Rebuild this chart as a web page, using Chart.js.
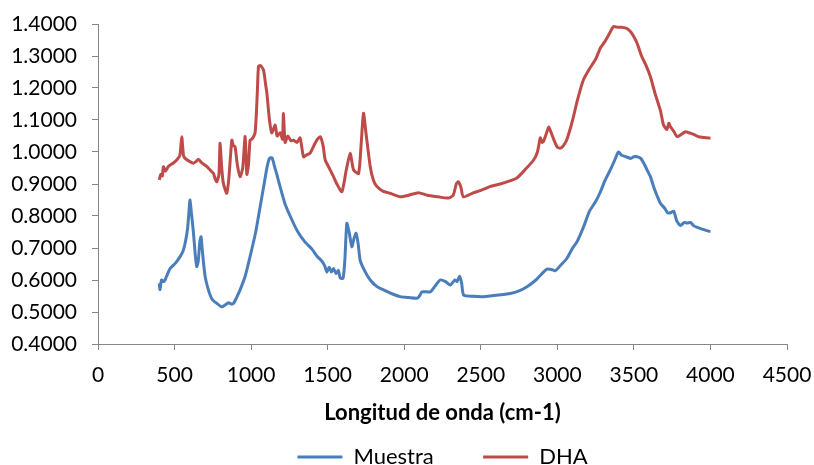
<!DOCTYPE html>
<html>
<head>
<meta charset="utf-8">
<script src="https://cdn.jsdelivr.net/npm/chart.js@4.4.1/dist/chart.umd.min.js"></script>
<style>
  html, body { margin: 0; padding: 0; background: #fff; }
  #wrap { width: 814px; height: 465px; position: relative; }
</style>
</head>
<body>
<div id="wrap"><canvas id="espectro"></canvas></div>
<script>
// series names
const seriesNames = ['Muestra', 'DHA'];

// Muestra: wavenumber (cm-1) and value
const muestraX = [400, 405, 415, 430, 438, 455, 471, 490, 510, 536, 555, 569, 585, 595, 601, 610, 623, 635, 645, 655,
  665, 673, 680, 688, 700, 721, 745, 776, 808, 830, 852, 870, 885, 905, 928, 960, 993, 1030, 1059, 1085,
  1105, 1120, 1137, 1150, 1168, 1190, 1220, 1255, 1300, 1350, 1400, 1429, 1460, 1480, 1495, 1510, 1525, 1538, 1555, 1570,
  1582, 1600, 1612, 1625, 1640, 1658, 1672, 1686, 1700, 1712, 1740, 1778, 1820, 1865, 1920, 1974, 2030, 2083, 2100, 2116,
  2170, 2200, 2235, 2270, 2301, 2330, 2345, 2362, 2375, 2388, 2450, 2518, 2600, 2693, 2750, 2802, 2860, 2900, 2932, 2960,
  2987, 3020, 3063, 3100, 3129, 3172, 3210, 3250, 3281, 3310, 3346, 3375, 3399, 3420, 3450, 3480, 3500, 3521, 3545, 3570,
  3590, 3608, 3630, 3650, 3673, 3700, 3720, 3739, 3760, 3780, 3804, 3830, 3848, 3870, 3890, 3910, 3940, 3970, 4000];
const muestraY = [0.590, 0.570, 0.600, 0.595, 0.600, 0.620, 0.636, 0.645, 0.655, 0.673, 0.690, 0.715, 0.760, 0.820, 0.850, 0.810, 0.750, 0.680, 0.642, 0.660,
  0.720, 0.735, 0.700, 0.660, 0.610, 0.569, 0.540, 0.527, 0.516, 0.522, 0.529, 0.525, 0.527, 0.545, 0.569, 0.610, 0.673, 0.750, 0.829, 0.900,
  0.955, 0.980, 0.982, 0.960, 0.930, 0.890, 0.840, 0.800, 0.755, 0.720, 0.695, 0.675, 0.660, 0.645, 0.625, 0.640, 0.625, 0.636, 0.620, 0.630,
  0.606, 0.605, 0.660, 0.777, 0.750, 0.704, 0.730, 0.746, 0.710, 0.662, 0.630, 0.600, 0.580, 0.569, 0.557, 0.548, 0.545, 0.543, 0.550, 0.563,
  0.563, 0.580, 0.600, 0.595, 0.584, 0.600, 0.595, 0.612, 0.590, 0.553, 0.549, 0.548, 0.552, 0.558, 0.566, 0.579, 0.600, 0.620, 0.634, 0.633,
  0.629, 0.645, 0.668, 0.700, 0.720, 0.767, 0.815, 0.845, 0.875, 0.910, 0.944, 0.975, 1.000, 0.990, 0.985, 0.980, 0.985, 0.985, 0.980, 0.960,
  0.940, 0.923, 0.890, 0.865, 0.840, 0.825, 0.810, 0.810, 0.815, 0.785, 0.770, 0.780, 0.778, 0.780, 0.770, 0.765, 0.760, 0.755, 0.751];

// DHA: wavenumber (cm-1) and value
const dhaX = [400, 410, 420, 427, 440, 460, 490, 514, 535, 547, 558, 569, 600, 623, 640, 656, 680, 710, 740, 754,
  766, 776, 790, 797, 808, 819, 841, 855, 874, 884, 895, 910, 928, 945, 961, 972, 983, 993, 1005, 1026,
  1040, 1048, 1060, 1081, 1095, 1103, 1120, 1135, 1157, 1170, 1190, 1205, 1211, 1222, 1240, 1260, 1277, 1300, 1320, 1342,
  1360, 1386, 1410, 1429, 1451, 1470, 1484, 1510, 1538, 1560, 1593, 1620, 1647, 1669, 1702, 1718, 1734, 1750, 1778, 1800,
  1822, 1860, 1908, 1974, 2030, 2092, 2150, 2220, 2288, 2320, 2340, 2353, 2370, 2386, 2450, 2500, 2560, 2627, 2680, 2736,
  2790, 2845, 2870, 2889, 2900, 2911, 2930, 2944, 2960, 2976, 3000, 3020, 3040, 3063, 3100, 3130, 3170, 3210, 3250, 3281,
  3310, 3340, 3366, 3390, 3420, 3455, 3480, 3500, 3521, 3550, 3580, 3608, 3640, 3673, 3693, 3715, 3728, 3739, 3760, 3782,
  3810, 3837, 3860, 3890, 3920, 3960, 4000];
const dhaY = [0.913, 0.930, 0.925, 0.954, 0.940, 0.955, 0.965, 0.975, 0.990, 1.048, 0.990, 0.980, 0.970, 0.965, 0.970, 0.977, 0.965, 0.955, 0.940, 0.933,
  0.915, 0.907, 0.930, 1.027, 0.950, 0.902, 0.871, 0.920, 1.037, 1.020, 1.017, 0.960, 0.923, 0.950, 1.048, 0.930, 0.960, 1.037, 1.040, 1.060,
  1.180, 1.267, 1.270, 1.256, 1.210, 1.184, 1.100, 1.060, 1.084, 1.050, 1.060, 1.040, 1.120, 1.030, 1.050, 1.035, 1.037, 1.030, 1.044, 0.985,
  0.990, 0.997, 1.020, 1.037, 1.048, 1.020, 0.975, 0.950, 0.923, 0.900, 0.876, 0.940, 0.996, 0.944, 0.933, 1.020, 1.121, 1.060, 0.954, 0.910,
  0.892, 0.878, 0.871, 0.860, 0.865, 0.873, 0.865, 0.860, 0.856, 0.865, 0.900, 0.907, 0.890, 0.860, 0.872, 0.880, 0.892, 0.900, 0.908, 0.919,
  0.945, 0.975, 1.000, 1.044, 1.030, 1.035, 1.060, 1.078, 1.060, 1.040, 1.015, 1.012, 1.020, 1.040, 1.100, 1.160, 1.225, 1.260, 1.290, 1.325,
  1.345, 1.370, 1.392, 1.390, 1.390, 1.386, 1.375, 1.360, 1.340, 1.300, 1.270, 1.235, 1.180, 1.130, 1.085, 1.070, 1.090, 1.079, 1.065, 1.048,
  1.055, 1.063, 1.060, 1.055, 1.048, 1.045, 1.043];

const lineColors = ['#4A7EBB', '#BE4B48'];
const xTitle = 'Longitud de onda (cm-1)';

const toPoints = (xs, ys) => xs.map((x, i) => ({ x: x, y: ys[i] }));

const axisColor = '#868686';
const tickFont = { family: 'Lato', size: 21 };

new Chart(document.getElementById('espectro'), {
  type: 'line',
  data: {
    datasets: [
      {
        label: seriesNames[0],
        data: toPoints(muestraX, muestraY),
        borderColor: lineColors[0],
        backgroundColor: lineColors[0],
        borderWidth: 3,
        pointRadius: 0,
        tension: 0.2
      },
      {
        label: seriesNames[1],
        data: toPoints(dhaX, dhaY),
        borderColor: lineColors[1],
        backgroundColor: lineColors[1],
        borderWidth: 3,
        pointRadius: 0,
        tension: 0.2
      }
    ]
  },
  options: {
    responsive: true,
    maintainAspectRatio: false,
    animation: false,
    layout: { padding: 0 },
    scales: {
      x: {
        type: 'linear',
        min: 0,
        max: 4500,
        border: { color: axisColor, width: 1 },
        grid: { drawOnChartArea: false, drawTicks: true, tickLength: 6, color: axisColor },
        ticks: { stepSize: 500, color: '#000', font: tickFont, padding: 13, maxRotation: 0,
          callback: (v) => String(v) },
        title: {
          display: true,
          text: xTitle,
          color: '#000',
          font: { family: 'Lato', size: 22, weight: 'bold' },
          padding: { top: 4, bottom: 10 }
        },
        // fixed box so the plot area ends where the original does
        afterFit: (scale) => { scale.height = 92; scale.paddingRight = 27; }
      },
      y: {
        min: 0.4,
        max: 1.4,
        border: { color: axisColor, width: 1 },
        grid: { drawOnChartArea: false, drawTicks: true, tickLength: 6, color: axisColor },
        ticks: {
          stepSize: 0.1,
          color: '#000',
          font: tickFont,
          padding: 15,
          callback: (v) => Number(v).toFixed(4)
        },
        afterFit: (scale) => { scale.width = 98; scale.paddingTop = 24; }
      }
    },
    plugins: {
      legend: {
        position: 'bottom',
        fullSize: false,
        maxHeight: 29,
        labels: {
          usePointStyle: true,
          pointStyle: 'line',
          pointStyleWidth: 45,
          color: '#000',
          font: { family: 'Lato', size: 22 },
          padding: 10,
          // wider gap after the first entry, as in the original legend
          generateLabels: (chart) => {
            const items = Chart.defaults.plugins.legend.labels.generateLabels(chart);
            items[0].text = items[0].text + '       ';
            return items;
          }
        }
      },
      tooltip: { enabled: false }
    }
  }
});
</script>
</body>
</html>
